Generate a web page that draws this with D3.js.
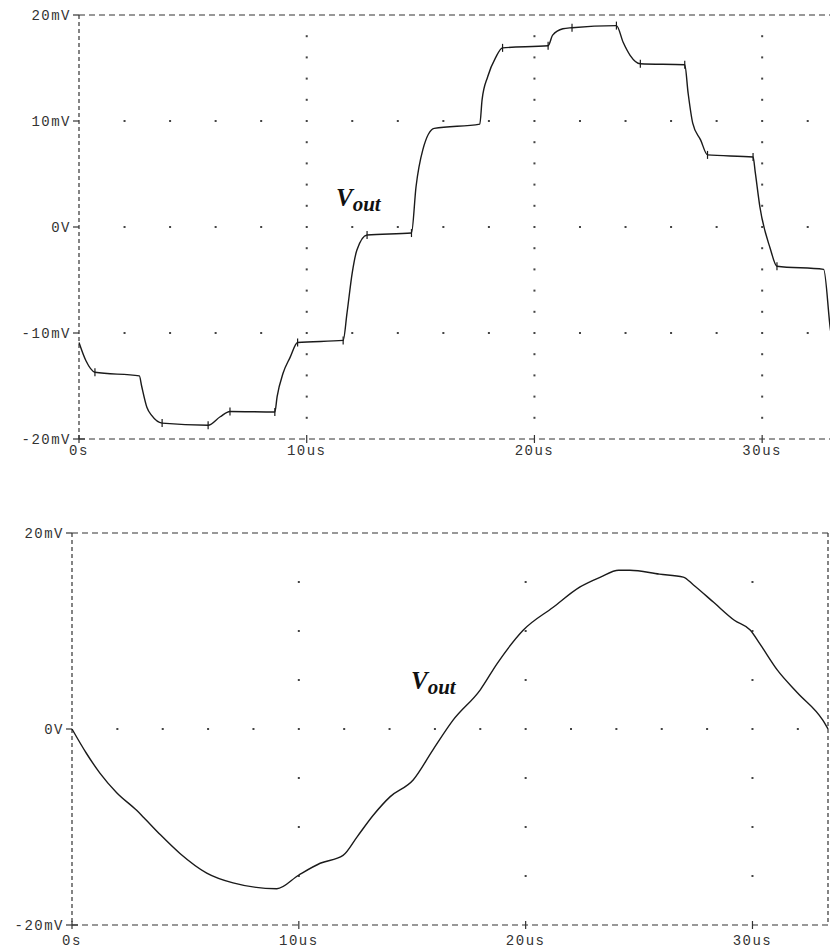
<!DOCTYPE html>
<meta charset="utf-8">
<script src="https://d3js.org/d3.v7.min.js"></script>
<style>
  body { margin: 0; background: #fff; }
  .lbl { font-family: "Liberation Mono", monospace; font-size: 14px; letter-spacing: 1.5px; fill: #333; }
  .vout { font-family: "Liberation Serif", serif; font-weight: bold; font-style: italic; fill: #111; }
</style>
<body>
<script>

// time axis (us) and voltage axis (mV)
var xTicks = [0, 10, 20, 30];
var xTickLabels = ["0s", "10us", "20us", "30us"];
var topYTicks = [20, 10, 0, -10, -20];
var topYTickLabels = ["20mV", "10mV", "0V", "-10mV", "-20mV"];
var botYTicks = [20, 0, -20];
var botYTickLabels = ["20mV", "0V", "-20mV"];

// top trace: stepped Vout
var topT = [0, 0.3, 0.7, 2.65, 2.75, 2.98, 3.2, 3.65, 5.67, 6.2, 6.63, 8.6, 8.7, 8.96, 9.27, 9.6, 11.6, 11.77, 12.0, 12.2, 12.65, 14.6, 14.8, 15.1, 15.6, 17.6, 17.7, 17.95, 18.3, 18.6, 20.6, 20.8, 21.25, 21.65, 23.6, 23.9, 24.2, 24.65, 26.6, 26.75, 26.95, 27.3, 27.6, 29.6, 29.7, 29.9, 30.35, 30.65, 32.7, 33.0, 33.15];
var topV = [-10.9, -12.6, -13.7, -14.05, -15.0, -17.0, -17.8, -18.5, -18.7, -17.9, -17.4, -17.45, -16.0, -13.8, -12.3, -10.9, -10.7, -8.1, -4.3, -2.2, -0.75, -0.57, 3.8, 7.3, 9.3, 9.7, 12.0, 14.2, 16.0, 16.9, 17.1, 18.1, 18.7, 18.8, 19.0, 17.4, 16.2, 15.4, 15.3, 12.6, 9.8, 8.2, 6.8, 6.6, 5.1, 1.9, -2.0, -3.7, -4.0, -9.7, -11.5];
// little probe marks drawn on the top trace
var markT = [0.7, 3.65, 5.67, 6.63, 8.6, 9.6, 11.6, 12.65, 14.6, 18.6, 20.6, 21.65, 23.6, 24.65, 26.6, 27.6, 29.6, 30.65];

// bottom trace: filtered Vout
var botT = [0, 0.64, 1.23, 1.97, 2.85, 3.15, 3.9, 4.76, 5.94, 7.1, 9.03, 10.0, 10.94, 11.95, 12.57, 13.28, 14.03, 15.04, 15.92, 16.8, 18.0, 18.75, 19.9, 21.2, 22.4, 23.3, 24.1, 24.6, 25.9, 26.95, 27.4, 28.3, 29.2, 29.9, 30.35, 31.1, 31.98, 33.1, 33.33];
var botV = [0, -2.5, -4.5, -6.5, -8.3, -9.0, -10.8, -12.7, -14.7, -15.7, -16.3, -14.9, -13.7, -12.9, -11.0, -8.8, -6.9, -5.2, -2.1, 0.9, 4.0, 6.7, 10.1, 12.4, 14.5, 15.5, 16.2, 16.2, 15.8, 15.5, 14.7, 12.9, 11.1, 10.1, 8.6, 6.0, 3.7, 0.9, 0];

var svg = d3.select("body").append("svg")
    .attr("width", 830)
    .attr("height", 949);

function drawPanel(opt) {
  var x = d3.scaleLinear().domain([0, 33.33]).range([opt.left, opt.right]);
  var y = d3.scaleLinear().domain([-20, 20]).range([opt.bottom, opt.top]);
  var g = svg.append("g");

  // frame: dashed lines
  g.append("line").attr("x1", x(0)).attr("x2", opt.right).attr("y1", y(20)).attr("y2", y(20))
    .attr("stroke", "#333").attr("stroke-width", 1.2).attr("stroke-dasharray", "6,4");
  g.append("line").attr("x1", x(0)).attr("x2", opt.right).attr("y1", y(-20)).attr("y2", y(-20))
    .attr("stroke", "#333").attr("stroke-width", 1.2).attr("stroke-dasharray", "6,4");
  g.append("line").attr("x1", x(0)).attr("x2", x(0)).attr("y1", y(20)).attr("y2", y(-20))
    .attr("stroke", "#333").attr("stroke-width", 1.2).attr("stroke-dasharray", "4,3");
  if (opt.rightBorder) {
    g.append("line").attr("x1", opt.right).attr("x2", opt.right).attr("y1", y(20)).attr("y2", y(-20))
      .attr("stroke", "#333").attr("stroke-width", 1.2).attr("stroke-dasharray", "4,3");
  }

  // dotted grid
  var dots = [];
  opt.rows.forEach(function(v) {
    for (var t = 2; t <= 32; t += 2) dots.push([t, v]);
  });
  [10, 20, 30].forEach(function(t) {
    for (var v = -20 + opt.colStep; v < 20; v += opt.colStep) {
      if (opt.rows.indexOf(v) < 0) dots.push([t, v]);
    }
  });
  g.selectAll(".dot").data(dots).enter().append("rect")
    .attr("x", function(d) { return x(d[0]) - 1; })
    .attr("y", function(d) { return y(d[1]) - 1; })
    .attr("width", 2).attr("height", 2)
    .attr("fill", "#444");

  // y ticks + labels
  g.selectAll(".yt").data(opt.yTicks).enter().append("line")
    .attr("x1", x(0) - 6).attr("x2", x(0))
    .attr("y1", function(d) { return y(d); }).attr("y2", function(d) { return y(d); })
    .attr("stroke", "#333").attr("stroke-width", 1.2);
  g.selectAll(".yl").data(opt.yTicks).enter().append("text")
    .attr("class", "lbl")
    .attr("x", x(0) - 8)
    .attr("y", function(d) { return y(d); })
    .attr("dy", "0.35em")
    .attr("text-anchor", "end")
    .text(function(d, i) { return opt.yLabels[i]; });

  // x ticks + labels
  g.selectAll(".xt").data(xTicks).enter().append("line")
    .attr("x1", function(d) { return x(d); }).attr("x2", function(d) { return x(d); })
    .attr("y1", y(-20) - 4).attr("y2", y(-20) + 4)
    .attr("stroke", "#333").attr("stroke-width", 1.2);
  g.append("line").attr("x1", x(0)).attr("x2", x(0) + 6).attr("y1", y(-20)).attr("y2", y(-20))
    .attr("stroke", "#333").attr("stroke-width", 1.2);
  g.selectAll(".xl").data(xTicks).enter().append("text")
    .attr("class", "lbl")
    .attr("x", function(d) { return x(d); })
    .attr("y", y(-20) + opt.xLabelDy)
    .attr("text-anchor", "middle")
    .text(function(d, i) { return xTickLabels[i]; });

  // trace
  var pts = opt.t.map(function(t, i) { return [t, opt.v[i]]; });
  var line = d3.line()
    .x(function(d) { return x(d[0]); })
    .y(function(d) { return y(d[1]); })
    .curve(d3.curveMonotoneX);
  g.append("path").datum(pts)
    .attr("d", line)
    .attr("fill", "none")
    .attr("stroke", "#1a1a1a")
    .attr("stroke-width", 1.4);

  if (opt.marks) {
    g.selectAll(".mk").data(opt.marks).enter().append("line")
      .attr("x1", function(d) { return x(d); }).attr("x2", function(d) { return x(d); })
      .attr("y1", function(d) { return y(opt.v[opt.t.indexOf(d)]) - 4; })
      .attr("y2", function(d) { return y(opt.v[opt.t.indexOf(d)]) + 4; })
      .attr("stroke", "#1a1a1a").attr("stroke-width", 1.2);
  }

  // Vout label
  var lab = g.append("text").attr("class", "vout")
    .attr("x", opt.labX).attr("y", opt.labY);
  lab.append("tspan").style("font-size", "25px").text("V");
  lab.append("tspan").style("font-size", "21px").attr("dy", 5).text("out");

  return g;
}

// top panel
drawPanel({
  left: 79, right: 838, top: 15, bottom: 439,
  rows: [10, 0, -10], colStep: 2,
  yTicks: topYTicks, yLabels: topYTickLabels,
  xLabelDy: 16,
  t: topT, v: topV, marks: markT,
  rightBorder: false,
  labX: 336, labY: 206
});

// bottom panel
drawPanel({
  left: 72, right: 828, top: 533, bottom: 925,
  rows: [0], colStep: 5,
  yTicks: botYTicks, yLabels: botYTickLabels,
  xLabelDy: 20,
  t: botT, v: botV, marks: null,
  rightBorder: true,
  labX: 411, labY: 689
});

</script>
</body>
